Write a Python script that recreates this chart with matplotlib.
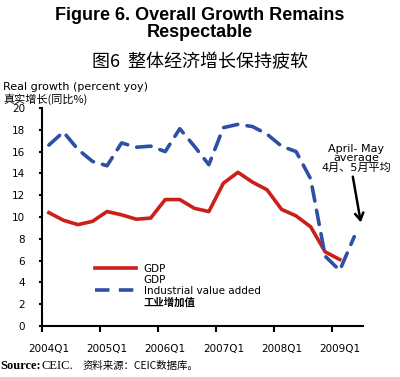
import matplotlib
matplotlib.use("Agg")
import matplotlib.pyplot as plt
from matplotlib.lines import Line2D

plt.rcParams['font.family'] = ['DejaVu Sans', 'Noto Sans CJK SC']

# quarterly, 2004Q1 .. 2009Q2
quarters = ["2004Q1", "2004Q2", "2004Q3", "2004Q4", "2005Q1", "2005Q2", "2005Q3", "2005Q4",
            "2006Q1", "2006Q2", "2006Q3", "2006Q4", "2007Q1", "2007Q2", "2007Q3", "2007Q4",
            "2008Q1", "2008Q2", "2008Q3", "2008Q4", "2009Q1", "2009Q2"]
gdp = [10.4, 9.7, 9.3, 9.6, 10.5, 10.2, 9.8, 9.9, 11.6, 11.6, 10.8, 10.5,
       13.1, 14.1, 13.2, 12.5, 10.7, 10.1, 9.1, 6.8, 6.1]
industry = [16.6, 17.8, 16.2, 15.1, 14.7, 16.8, 16.4, 16.5, 16.0, 18.1, 16.5, 14.8,
            18.2, 18.5, 18.3, 17.6, 16.5, 16.0, 13.5, 6.4, 5.1, 8.2]
year_labels = ["2004Q1", "2005Q1", "2006Q1", "2007Q1", "2008Q1", "2009Q1"]
yticks = [0, 2, 4, 6, 8, 10, 12, 14, 16, 18, 20]

red = '#cc1f1a'
blue = '#2d4fa6'
cjk = ['Noto Sans CJK SC', 'DejaVu Sans']

fig = plt.figure(figsize=(4.0, 3.77), dpi=100)
ax = fig.add_axes([0.104, 0.1353, 0.8035, 0.5782])

x_gdp = list(range(len(gdp)))
x_ind = list(range(len(industry)))
ax.plot(x_gdp, gdp, color=red, lw=2.6, solid_joinstyle='round')
ax.plot(x_ind, industry, color=blue, lw=2.6, dashes=(4, 2.6), dash_capstyle='round')

ax.set_xlim(-0.5, 21.6)
ax.set_ylim(0, 20)
ax.set_yticks(yticks)
ax.tick_params(axis='y', labelsize=7.5, length=2.5, width=1.5, direction='out', pad=9.5)

# ticks between categories, labels centred on the first quarter of each year
lab_pos = [quarters.index(q) for q in year_labels]
ax.set_xticks([p - 0.5 for p in lab_pos])
ax.set_xticklabels([])
ax.tick_params(axis='x', length=4, width=1.5, direction='out')
ax.set_xticks(lab_pos, minor=True)
ax.set_xticklabels(year_labels, minor=True)
ax.tick_params(axis='x', which='minor', length=0, labelsize=7.5, pad=13)

for s in ['top', 'right']:
    ax.spines[s].set_visible(False)
for s in ['left', 'bottom']:
    ax.spines[s].set_linewidth(1.5)

handles = [Line2D([], [], color=red, lw=2.6),
           Line2D([], [], color='none'),
           Line2D([], [], color=blue, lw=2.6, dashes=(4, 2.6)),
           Line2D([], [], color='none')]
labels = ["GDP", "GDP", "Industrial value added", "工业增加值"]
leg = ax.legend(handles, labels, loc='upper left', bbox_to_anchor=(0.165, 0.285),
                frameon=False, fontsize=7.5, handlelength=4.0, handletextpad=0.7,
                labelspacing=0.1, borderpad=0, borderaxespad=0)
leg.get_texts()[3].set_fontweight('bold')

# annotation
ax.text(21.15, 15.4, "April- May\naverage\n4月、5月平均", ha='center', va='center',
        fontsize=8, linespacing=0.9)
ax.annotate("", xy=(21.45, 9.5), xytext=(20.9, 13.7),
            arrowprops=dict(arrowstyle='->,head_length=0.5,head_width=0.3', color='black',
                            lw=1.8, shrinkA=0, shrinkB=0))

fig.text(0.5, 0.937, "Figure 6. Overall Growth Remains\nRespectable", ha='center', va='center',
         fontsize=13, fontweight='bold', family='Liberation Sans', linespacing=1.0)
fig.text(0.5, 0.835, "图6  整体经济增长保持疲软", ha='center', va='center', fontsize=13,
         family=cjk)
fig.text(0.008, 0.769, "Real growth (percent yoy)", ha='left', va='center', fontsize=8)
fig.text(0.008, 0.737, "真实增长(同比%)", ha='left', va='center', fontsize=8, family=cjk)
fig.text(0.0, 0.03, "Source:", ha='left', va='center', fontsize=9, fontweight='bold',
         family='Liberation Serif')
fig.text(0.105, 0.03, "CEIC.", ha='left', va='center', fontsize=9, family='Liberation Serif')
fig.text(0.207, 0.03, "资料来源：CEIC数据库。", ha='left', va='center', fontsize=7.5,
         family=cjk)

fig.savefig("out.png", dpi=100)
